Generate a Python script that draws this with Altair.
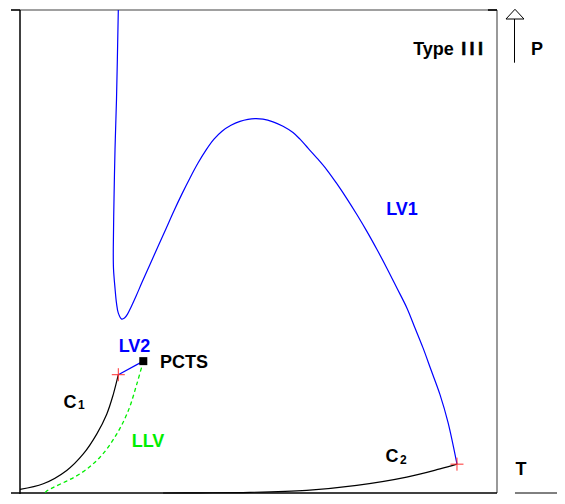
import altair as alt
import pandas as pd

# ---- curve data in (T, P) units, 0..100 on both axes ----
lv1_T = [20.61, 20.23, 19.92, 19.71, 19.56, 19.60, 19.92, 20.23, 20.61, 21.32, 21.91, 22.54,
         23.27, 24.32, 25.58, 27.25, 28.93, 30.61, 32.29, 33.96, 35.64, 37.32, 38.99, 40.67,
         42.35, 44.23, 46.12, 47.80, 49.27, 50.94, 53.04, 55.14, 57.23, 58.70, 60.38, 62.26,
         64.36, 66.46, 68.55, 70.65, 72.75, 74.84, 76.94, 79.04, 81.13, 82.81, 84.49, 86.16,
         88.05, 89.73, 91.61]
lv1_P = [100.0, 81.48, 71.19, 60.91, 50.62, 46.50, 42.39, 39.30, 37.24, 36.01, 36.21, 37.04,
         38.48, 40.74, 43.62, 47.33, 51.03, 54.73, 58.44, 61.93, 65.23, 68.31, 70.99, 73.25,
         74.90, 76.13, 76.95, 77.37, 77.51, 77.41, 76.85, 75.93, 74.63, 73.25, 71.40, 69.34,
         66.87, 63.99, 60.91, 57.61, 54.12, 50.41, 46.50, 42.39, 38.27, 34.16, 30.04, 25.51,
         20.37, 14.61, 5.97]

c1_T = [0.0, 4.88, 9.79, 13.27, 16.08, 18.18, 19.56, 20.61]
c1_P = [0.76, 1.91, 4.67, 8.09, 12.20, 16.32, 20.43, 24.49]

c2_T = [30.0, 37.74, 48.22, 60.10, 70.59, 81.07, 88.05, 91.61]
c2_P = [0.0, 0.04, 0.14, 0.56, 1.58, 3.29, 5.00, 5.97]

lv2_T = [20.61, 25.85]
lv2_P = [24.49, 27.30]

llv_T = [25.85, 24.47, 22.70, 20.27, 16.77, 12.58, 5.60, 5.24]
llv_P = [27.30, 22.49, 17.02, 12.20, 7.41, 3.97, 0.41, 0.0]

crit_T = [20.61, 91.61]
crit_P = [24.49, 5.97]

pcts_T = [25.85]
pcts_P = [27.30]


def series(name, ts, ps):
    return pd.DataFrame({"series": name, "T": ts, "P": ps, "ord": range(len(ts))})


solid = pd.concat([
    series("LV1", lv1_T, lv1_P),
    series("LV2", lv2_T, lv2_P),
    series("C1", c1_T, c1_P),
    series("C2", c2_T, c2_P),
])
dashed = series("LLV", llv_T, llv_P)

xs = alt.Scale(domain=[0, 100], nice=False, zero=False)
ys = alt.Scale(domain=[0, 100], nice=False, zero=False)

X = lambda f="T": alt.X(f"{f}:Q", scale=xs, axis=None)
Y = lambda f="P": alt.Y(f"{f}:Q", scale=ys, axis=None)

curves = alt.Chart(solid).mark_line(interpolate="catmull-rom", strokeWidth=1.2).encode(
    x=X(), y=Y(), order="ord:Q",
    color=alt.Color("series:N", legend=None,
                    scale=alt.Scale(domain=["LV1", "LV2", "C1", "C2"],
                                    range=["#0000FF", "#0000FF", "#000000", "#000000"])),
    detail="series:N",
)
llv = alt.Chart(dashed).mark_line(interpolate="catmull-rom", strokeWidth=1.3,
                                  strokeDash=[4, 3], color="#00EE00").encode(
    x=X(), y=Y(), order="ord:Q")

crosses = alt.Chart(pd.DataFrame({"T": crit_T, "P": crit_P})).mark_point(
    shape="M-1,0L1,0M0,-1L0,1", size=169, color="#FF3030", strokeWidth=1, filled=False,
    opacity=1).encode(x=X(), y=Y())

pcts = alt.Chart(pd.DataFrame({"T": pcts_T, "P": pcts_P})).mark_square(
    size=64, color="black", opacity=1).encode(x=X(), y=Y())

# ---- frame & axis arrows (annotation geometry) ----
def rule(x1, x2, y1, y2, color, width):
    return alt.Chart(pd.DataFrame({"x1": [x1], "x2": [x2], "y1": [y1], "y2": [y2]})).mark_rule(
        color=color, strokeWidth=width).encode(
        x=alt.X("x1:Q", scale=xs, axis=None), x2="x2:Q",
        y=alt.Y("y1:Q", scale=ys, axis=None), y2="y2:Q")

frame = [
    rule(0, 100, 100, 100, "#808080", 1.6),   # top
    rule(100, 100, 0, 100, "#808080", 1.6),   # right
    rule(-1.89, 0, 100, 100, "black", 1.6),   # top-left tick
    rule(98.1, 100, 100, 100, "black", 1.6),  # top-right tick
    rule(0, 0, -2.0, 100, "black", 1.5),      # left axis
    rule(-1.89, 100, 0, 0, "black", 1.5),     # bottom axis
    rule(103.67, 103.67, 89.09, 98.15, "black", 1.0),  # P arrow shaft
    rule(103.77, 113.5, 0, 0, "black", 1.0),           # T arrow shaft
]

arrow_head = alt.Chart(pd.DataFrame({"T": [103.77], "P": [99.14]})).mark_point(
    shape="M-1,0.54L0,-0.54L1,0.54Z", size=324, filled=True, fill="white",
    stroke="black", strokeWidth=1, opacity=1).encode(x=X(), y=Y())

# ---- labels ----
lab_text = ["Type", "P", "T", "LV1", "LV2", "C", "LLV", "C"]
lab_T = [86.69, 108.39, 105.03, 80.08, 24.0, 10.48, 26.83, 77.99]
lab_P = [90.74, 90.74, 3.64, 57.47, 29.22, 17.70, 9.61, 6.38]
lab_color = ["black", "black", "black", "#0000FF", "#0000FF", "black", "#00EE00", "black"]

labels = alt.Chart(pd.DataFrame({"t": lab_text, "T": lab_T, "P": lab_P, "c": lab_color})).mark_text(
    font="Liberation Sans", fontWeight="bold", fontSize=18, baseline="alphabetic",
    align="center").encode(x=X(), y=Y(), text="t:N", color=alt.Color("c:N", scale=None))

# the three strokes of "III"
roman_T = [93.04, 94.76, 96.54]
roman_P = [90.74, 90.74, 90.74]
roman = alt.Chart(pd.DataFrame({"t": ["I", "I", "I"], "T": roman_T, "P": roman_P})).mark_text(
    font="Liberation Sans", fontWeight="bold", fontSize=18, baseline="alphabetic",
    align="center", color="black", stroke="black", strokeWidth=0.5).encode(
    x=X(), y=Y(), text="t:N")

pcts_label = alt.Chart(pd.DataFrame({"t": ["PCTS"], "T": [29.35], "P": [25.93]})).mark_text(
    font="Liberation Sans", fontWeight="bold", fontSize=18, baseline="alphabetic",
    align="left", color="black").encode(x=X(), y=Y(), text="t:N")

subs = alt.Chart(pd.DataFrame({"t": ["1", "2"], "T": [12.85, 80.36], "P": [17.35, 5.91]})).mark_text(
    font="Liberation Sans", fontWeight="bold", fontSize=12, baseline="alphabetic",
    align="center", color="black").encode(x=X(), y=Y(), text="t:N")

chart = alt.layer(*frame, curves, llv, crosses, pcts, arrow_head, labels, roman, pcts_label,
                  subs).properties(
    width=477, height=483,
    autosize=alt.AutoSizeParams(type="none"),
    padding={"left": 12, "top": 2, "right": 60, "bottom": 1},
).configure_view(stroke=None)

chart.save("out.html", embed_options={"renderer": "svg", "actions": False})
